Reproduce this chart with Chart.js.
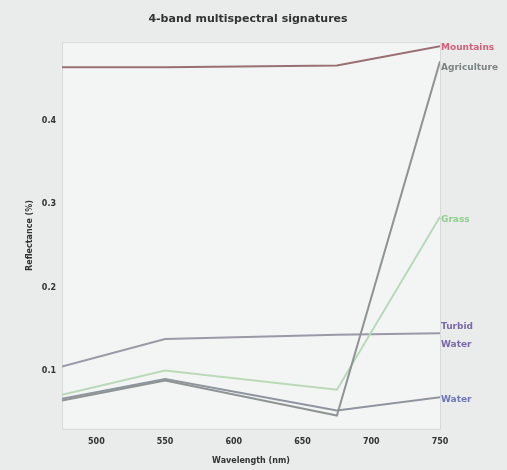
<!DOCTYPE html>
<html>
<head>
<meta charset="utf-8">
<script src="https://cdn.jsdelivr.net/npm/chart.js@4"></script>
<style>
  html, body { margin: 0; padding: 0; background: #e9ecea; }
  #wrap { width: 507px; height: 470px; }
</style>
</head>
<body>
<div id="wrap"><canvas id="myChart" width="507" height="470"></canvas></div>
<script>
const ctx = document.getElementById('myChart');

// band centres (nm)
const wavelengths = [475, 550, 675, 750];

// reflectance per class
const mountains = [0.465, 0.465, 0.467, 0.490];
const agriculture = [0.064, 0.088, 0.046, 0.472];
const grass = [0.071, 0.100, 0.077, 0.285];
const turbidWater = [0.105, 0.138, 0.143, 0.145];
const water = [0.066, 0.090, 0.052, 0.068];

const classNames = ['Mountains', 'Agriculture', 'Grass', ['Turbid', 'Water'], 'Water'];
const lineColors = ['#9a6f72', '#8e9494', '#b9d9b9', '#9b98a8', '#8f95a0'];
const labelColors = ['#d2607a', '#7d8484', '#8fcf8f', '#7a68a8', '#6f74b8'];
const labelOffsets = [1, 6, 3, 2, 2];

const series = [mountains, agriculture, grass, turbidWater, water];

const datasets = series.map((vals, i) => ({
    label: Array.isArray(classNames[i]) ? classNames[i].join(' ') : classNames[i],
    data: vals.map((v, k) => ({ x: wavelengths[k], y: v })),
    borderColor: lineColors[i],
    borderWidth: 2,
    pointRadius: 0,
    tension: 0,
    fill: false
}));

// light plot box behind the lines
const plotBox = {
    id: 'plotBox',
    beforeDraw(chart) {
        const a = chart.chartArea;
        const c = chart.ctx;
        c.save();
        c.fillStyle = '#f3f5f4';
        c.fillRect(a.left, a.top, a.right - a.left, a.bottom - a.top);
        c.strokeStyle = '#d6dad8';
        c.lineWidth = 1;
        c.strokeRect(a.left + 0.5, a.top + 0.5, a.right - a.left, a.bottom - a.top);
        c.restore();
    }
};

// class names at the right end of each line
const endLabels = {
    id: 'endLabels',
    afterDatasetsDraw(chart) {
        const c = chart.ctx;
        const ys = chart.scales.y;
        c.save();
        c.font = 'bold 9px "DejaVu Sans"';
        c.textBaseline = 'middle';
        series.forEach((vals, i) => {
            const y = ys.getPixelForValue(vals[vals.length - 1]) + labelOffsets[i];
            const x = chart.chartArea.right + 1;
            c.fillStyle = labelColors[i];
            const name = classNames[i];
            if (Array.isArray(name)) {
                c.fillText(name[0], x, y - 9);
                c.fillText(name[1], x, y + 9);
            } else {
                c.fillText(name, x, y);
            }
        });
        c.restore();
    }
};

new Chart(ctx, {
    type: 'line',
    data: { datasets: datasets },
    options: {
        responsive: false,
        animation: false,
        layout: { padding: { top: 4, right: 19, bottom: 0, left: 8 } },
        plugins: {
            legend: { display: false },
            tooltip: { enabled: false },
            title: {
                display: true,
                text: '4-band multispectral signatures',
                color: '#333',
                font: { family: 'DejaVu Sans', size: 11, weight: 'bold' },
                padding: { top: 9, bottom: 16 }
            }
        },
        scales: {
            x: {
                type: 'linear',
                min: 475,
                max: 750,
                grid: { display: false, drawTicks: false },
                border: { display: false },
                ticks: {
                    stepSize: 50,
                    includeBounds: false,
                    color: '#333',
                    padding: 8,
                    maxRotation: 0,
                    font: { family: 'DejaVu Sans', size: 8, weight: 'bold' }
                },
                title: {
                    display: true,
                    text: 'Wavelength (nm)',
                    color: '#333',
                    font: { family: 'DejaVu Sans', size: 8, weight: 'bold' },
                    padding: { top: 2, bottom: 4 }
                }
            },
            y: {
                min: 0.03,
                max: 0.495,
                grid: { display: false, drawTicks: false },
                border: { display: false },
                ticks: {
                    stepSize: 0.1,
                    includeBounds: false,
                    color: '#333',
                    padding: 6,
                    font: { family: 'DejaVu Sans', size: 8, weight: 'bold' },
                    callback: v => v.toFixed(1)
                },
                title: {
                    display: true,
                    text: 'Reflectance (%)',
                    color: '#333',
                    font: { family: 'DejaVu Sans', size: 8, weight: 'bold' },
                    padding: { top: 17, bottom: 4 }
                },
                afterFit(scale) { scale.width = 54; }
            },
            // empty right-hand strip that holds the class names
            yr: {
                position: 'right',
                display: true,
                grid: { display: false, drawTicks: false },
                border: { display: false },
                ticks: { display: false },
                afterFit(scale) { scale.width = 48; }
            }
        }
    },
    plugins: [plotBox, endLabels]
});
</script>
</body>
</html>
